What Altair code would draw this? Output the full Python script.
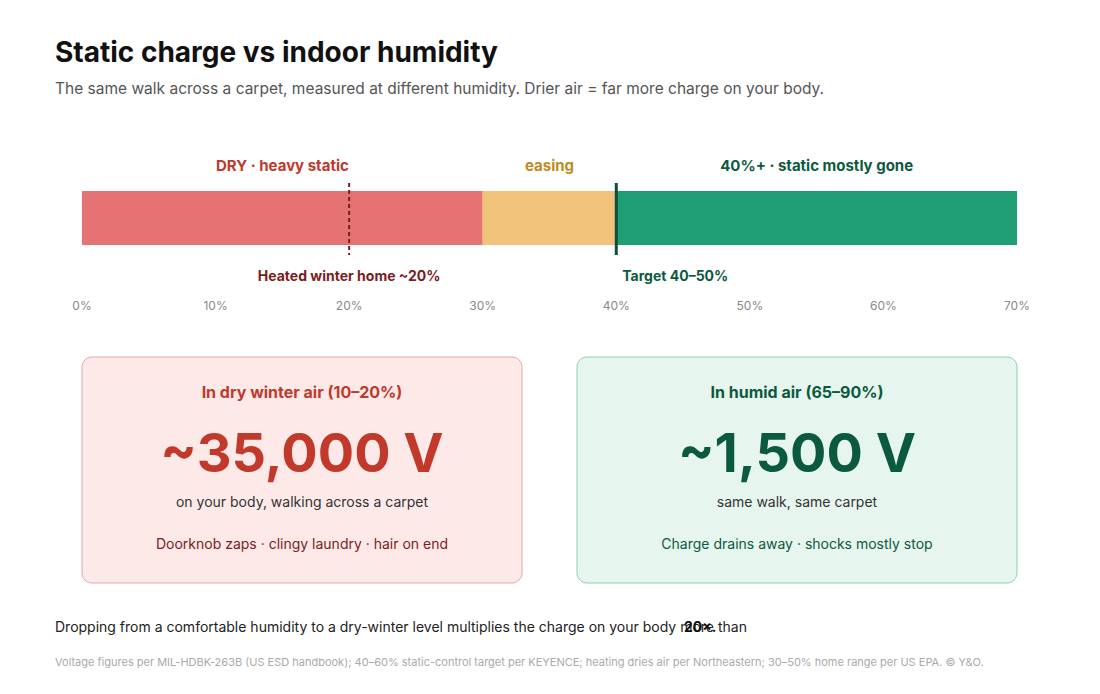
import altair as alt
import pandas as pd

# humidity zones along the 0-70% strip
zone_start = [0, 30, 40]
zone_end = [30, 40, 70]
zone_label = ["DRY · heavy static", "easing", "40%+ · static mostly gone"]

# reference markers on the strip
marker_pct = [20, 40]
marker_label = ["Heated winter home ~20%", "Target 40–50%"]

tick_pct = [0, 10, 20, 30, 40, 50, 60, 70]

# the two comparison cards
card_head = ["In dry winter air (10–20%)", "In humid air (65–90%)"]
card_volts = [35000, 1500]
card_sub = ["on your body, walking across a carpet", "same walk, same carpet"]
card_note = ["Doorknob zaps · clingy laundry · hair on end",
             "Charge drains away · shocks mostly stop"]

FONT = "Inter"
W, H = 1084, 678

x_scale = alt.Scale(domain=[0, 70], range=[74, 1009], nice=False, zero=False)
X = lambda f: alt.X(f, type="quantitative", scale=x_scale, axis=None)

zones = pd.DataFrame({"start": zone_start, "end": zone_end, "zone": zone_label})
markers = pd.DataFrame({"pct": marker_pct, "label": marker_label})
ticks = pd.DataFrame({"pct": tick_pct})
cards = pd.DataFrame({"head": card_head, "volts": card_volts, "sub": card_sub, "note": card_note})

one = pd.DataFrame({"a": [0]})


def txt(s, x, y, size, color, weight="normal", align="left"):
    return alt.Chart(one).mark_text(
        text=s, font=FONT, fontSize=size, fontWeight=weight, color=color,
        align=align, baseline="middle"
    ).encode(x=alt.value(x), y=alt.value(y))


title = alt.Chart(one).mark_text(
    text="Static charge vs indoor humidity", font=FONT, fontSize=28, fontWeight="bold",
    color="#111111", align="left", baseline="alphabetic"
).encode(x=alt.value(47), y=alt.value(54))
subtitle = txt("The same walk across a carpet, measured at different humidity. Drier air = far more charge on your body.",
               47, 81, 15.5, "#555555")

bars = alt.Chart(zones).mark_rect().encode(
    X("start"), x2="end",
    y=alt.value(183), y2=alt.value(237),
    color=alt.Color("zone:N", scale=alt.Scale(domain=zone_label, range=["#e57373", "#f0c27a", "#1f9e75"]), legend=None),
)

zone_text = alt.Chart(zones).transform_calculate(mid="(datum.start + datum.end) / 2").mark_text(
    font=FONT, fontSize=15, fontWeight="bold", baseline="middle"
).encode(
    X("mid"), y=alt.value(158), text="zone:N",
    fill=alt.Fill("zone:N", scale=alt.Scale(domain=zone_label, range=["#c0392b", "#c08a1e", "#0b5a40"]), legend=None),
)

dry_rule = alt.Chart(markers).transform_filter("datum.pct == 20").mark_rule(
    color="#7b1d1d", strokeWidth=2, strokeDash=[4, 3]
).encode(X("pct"), y=alt.value(175), y2=alt.value(247))
target_rule = alt.Chart(markers).transform_filter("datum.pct == 40").mark_rule(
    color="#0b4f3a", strokeWidth=3
).encode(X("pct"), y=alt.value(175), y2=alt.value(247))

dry_label = alt.Chart(markers).transform_filter("datum.pct == 20").mark_text(
    font=FONT, fontSize=14, fontWeight="bold", color="#7b1d1d", baseline="middle"
).encode(X("pct"), y=alt.value(269), text="label:N")
target_label = alt.Chart(markers).transform_filter("datum.pct == 40").mark_text(
    font=FONT, fontSize=14, fontWeight="bold", color="#0b5a40", baseline="middle", align="left", dx=6
).encode(X("pct"), y=alt.value(269), text="label:N")

tick_text = alt.Chart(ticks).transform_calculate(lab="datum.pct + '%'").mark_text(
    font=FONT, fontSize=12, color="#888888", baseline="middle"
).encode(X("pct"), y=alt.value(298), text="lab:N")


def card(i, x0, x1, fill, stroke, head_col, big_col, note_col):
    cx = (x0 + x1) / 2
    d = alt.Chart(cards).transform_window(idx="row_number()").transform_filter(f"datum.idx == {i + 1}")
    box = d.mark_rect(fill=fill, stroke=stroke, strokeWidth=1, cornerRadius=10).encode(
        x=alt.value(x0), x2=alt.value(x1), y=alt.value(349), y2=alt.value(575))
    head = d.mark_text(font=FONT, fontSize=16, fontWeight="bold", color=head_col, baseline="middle").encode(
        x=alt.value(cx), y=alt.value(385), text="head:N")
    big = d.transform_calculate(v="'~' + format(datum.volts, ',') + ' V'").mark_text(
        font=FONT, fontSize=54, fontWeight="bold", color=big_col, baseline="middle").encode(
        x=alt.value(cx), y=alt.value(448), text="v:N")
    sub = d.mark_text(font=FONT, fontSize=14, color="#333333", baseline="middle").encode(
        x=alt.value(cx), y=alt.value(495), text="sub:N")
    note = d.mark_text(font=FONT, fontSize=14, color=note_col, baseline="middle").encode(
        x=alt.value(cx), y=alt.value(537), text="note:N")
    return [box, head, big, sub, note]


left = card(0, 74, 514, "#fde9e8", "#e3a9a6", "#c0392b", "#c0392b", "#7b1d1d")
right = card(1, 569, 1009, "#e6f5ee", "#8ccfb2", "#0b5a40", "#0b5a40", "#0b5a40")

foot = txt("Dropping from a comfortable humidity to a dry-winter level multiplies the charge on your body more than",
           47, 620, 14, "#222222")
foot_bold = txt("20×.", 676, 620, 14, "#111111", weight="bold")
source = txt("Voltage figures per MIL-HDBK-263B (US ESD handbook); 40–60% static-control target per KEYENCE; "
             "heating dries air per Northeastern; 30–50% home range per US EPA. © Y&O.",
             47, 655, 11, "#aaaaaa")

chart = alt.layer(
    title, subtitle, bars, zone_text, dry_rule, target_rule, dry_label, target_label, tick_text,
    *left, *right, foot, foot_bold, source
).properties(
    width=W, height=H, padding=0, autosize=alt.AutoSizeParams(type="none"), background="white"
).configure_view(strokeWidth=0)

chart.save("out.html", embed_options={"renderer": "svg", "actions": False})
